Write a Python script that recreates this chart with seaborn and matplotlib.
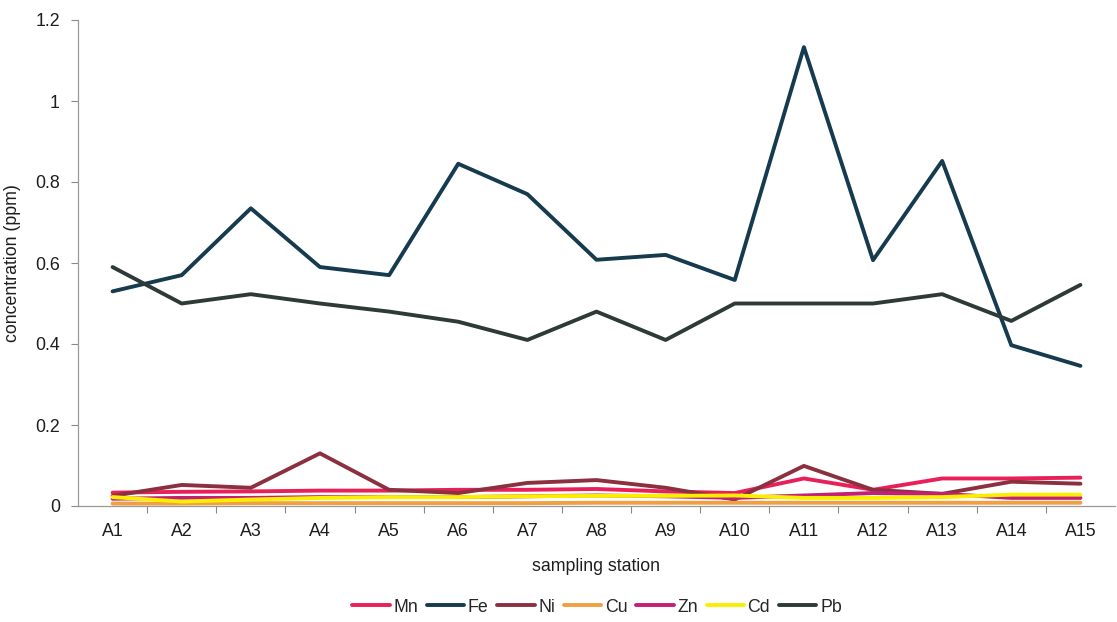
import numpy as np
import pandas as pd
import matplotlib
matplotlib.use("Agg")
import matplotlib.pyplot as plt
import seaborn as sns

stations = ["A1", "A2", "A3", "A4", "A5", "A6", "A7", "A8", "A9", "A10",
            "A11", "A12", "A13", "A14", "A15"]

mn = [0.033, 0.035, 0.036, 0.038, 0.038, 0.040, 0.040, 0.042, 0.036, 0.032,
      0.068, 0.040, 0.068, 0.068, 0.070]
fe = [0.530, 0.570, 0.735, 0.590, 0.570, 0.845, 0.770, 0.608, 0.620, 0.558,
      1.133, 0.607, 0.852, 0.397, 0.346]
ni = [0.025, 0.052, 0.045, 0.130, 0.040, 0.032, 0.057, 0.064, 0.045, 0.016,
      0.099, 0.040, 0.030, 0.060, 0.055]
cu = [0.006, 0.006, 0.007, 0.007, 0.007, 0.007, 0.007, 0.008, 0.008, 0.008,
      0.008, 0.008, 0.008, 0.008, 0.008]
zn = [0.018, 0.020, 0.020, 0.022, 0.022, 0.022, 0.024, 0.026, 0.024, 0.020,
      0.026, 0.032, 0.030, 0.020, 0.020]
cd = [0.022, 0.011, 0.016, 0.020, 0.022, 0.022, 0.024, 0.025, 0.025, 0.026,
      0.020, 0.020, 0.022, 0.028, 0.028]
pb = [0.590, 0.500, 0.523, 0.500, 0.480, 0.455, 0.410, 0.480, 0.410, 0.500,
      0.500, 0.500, 0.523, 0.457, 0.546]

metals = ["Mn", "Fe", "Ni", "Cu", "Zn", "Cd", "Pb"]
colors = ["#e8205a", "#163a4e", "#8c3040", "#f0a040", "#c41f78", "#f8f000", "#2e3a38"]
series = [mn, fe, ni, cu, zn, cd, pb]

frames = []
for name, vals in zip(metals, series):
    frames.append(pd.DataFrame({"station": np.arange(len(stations)),
                                "value": vals, "metal": name}))
df = pd.concat(frames, ignore_index=True)

sns.set_theme(style="white")
plt.rcParams["font.family"] = ["Liberation Sans", "DejaVu Sans"]

FS = 12.8
TXT = "#1e1e1e"

fig = plt.figure(figsize=(11.17, 6.22), dpi=100)
ax = fig.add_axes([78 / 1117, 1 - 506 / 622, (1115 - 78) / 1117, (506 - 20) / 622])

sns.lineplot(data=df, x="station", y="value", hue="metal", hue_order=metals,
             palette=dict(zip(metals, colors)), linewidth=2.8, ax=ax,
             legend=False, sort=False)

ax.set_xlim(-0.5, len(stations) - 0.5)
ax.set_ylim(0, 1.2)
ax.set_yticks([0, 0.2, 0.4, 0.6, 0.8, 1.0, 1.2])
ax.set_yticklabels(["0", "0.2", "0.4", "0.6", "0.8", "1", "1.2"])
ax.set_xticks(np.arange(len(stations)))
ax.set_xticklabels(stations)
ax.set_xticks(np.arange(len(stations) - 1) + 0.5, minor=True)
ax.tick_params(axis="x", which="major", length=0, pad=12, labelsize=FS, colors=TXT)
ax.tick_params(axis="x", which="minor", length=5, width=0.8, color="#888888", bottom=True)
ax.tick_params(axis="y", which="major", length=5, width=0.8, color="#888888", left=True,
               labelsize=FS, colors=TXT, pad=8)

for side in ["top", "right"]:
    ax.spines[side].set_visible(False)
for side in ["left", "bottom"]:
    ax.spines[side].set_color("#999999")
    ax.spines[side].set_linewidth(0.9)

ax.set_xlabel("sampling station", fontsize=FS, color=TXT, labelpad=13)
ax.set_ylabel("concentration (ppm)", fontsize=FS, color=TXT, labelpad=10)

handles = [plt.Line2D([0], [0], color=c, lw=2.8) for c in colors]
fig.legend(handles, metals, loc="center", bbox_to_anchor=(597 / 1117, 1 - 607 / 622),
           ncol=7, frameon=False, fontsize=FS, handlelength=2.1,
           handletextpad=0.2, columnspacing=0.5)

fig.savefig("out.png", dpi=100, facecolor="white")
